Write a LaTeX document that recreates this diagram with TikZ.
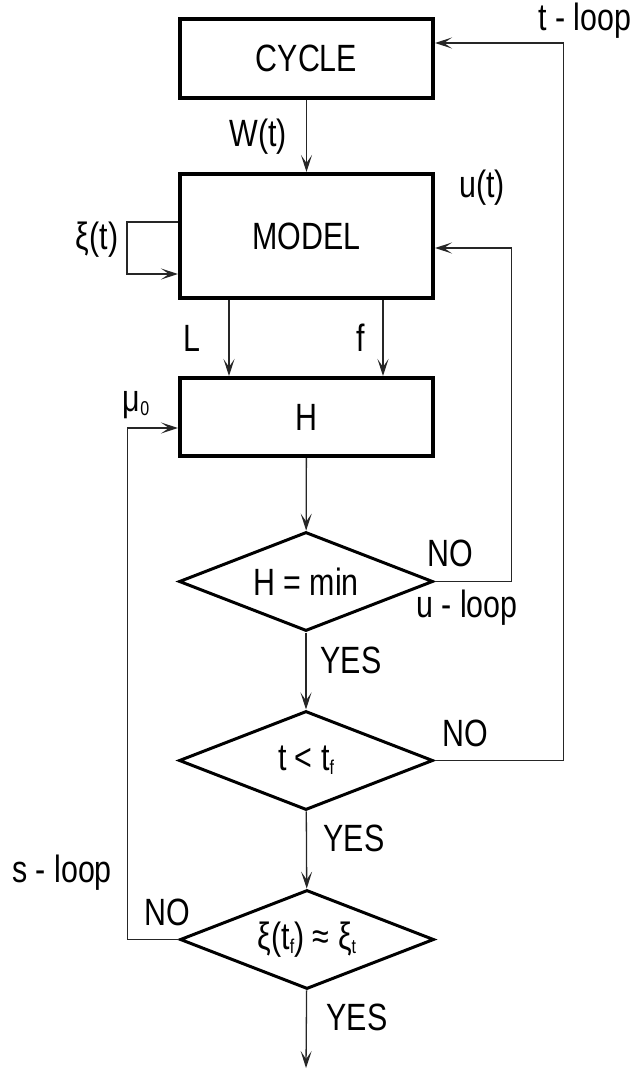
\documentclass[tikz,border=0pt]{standalone}
\usepackage{fontspec}
\setmainfont{Liberation Sans}[FakeStretch=0.8]
\usetikzlibrary{arrows.meta,shapes.geometric}

\tikzset{
  block/.style={draw, line width=4pt, minimum width=253pt, inner sep=0pt},
  test/.style={draw, diamond, line width=3pt, minimum width=254pt, minimum height=99pt, aspect=2.5, inner sep=0pt},
  arr/.style={-{Stealth[length=17pt,width=11pt,inset=8pt]}, line width=1.3pt, draw=black!85},
  lbl/.style={inner sep=0pt}
}
\newcommand{\subidx}[1]{\raisebox{-4pt}{\fontsize{20}{20}\selectfont #1}}

\begin{document}
\begin{tikzpicture}[x=1pt, y=-1pt, font=\fontsize{38}{45}\selectfont]
    \useasboundingbox (0,0) rectangle (640,1073);
    \node[block, minimum height=78pt] (cycle) at (306.5,58.5) {CYCLE};
    \node[block, minimum height=124pt] (model) at (306.5,236) {MODEL};
    \node[block, minimum height=78pt] (hbox) at (306.5,417) {H};
    \node[test] (hmin) at (306,581.5) {H = min};
    \node[test] (tlt) at (306,760.5) {t < t\subidx{f}};
    \node[test] (xi) at (307,939.5) {ξ(t\subidx{f}) ≈ ξ\subidx{t}};
    \coordinate (stop) at (306,1068);

    \draw[arr] (cycle) -- (model);
    \draw[arr] ([xshift=-77.5pt]model.south) -- ([xshift=-77.5pt]hbox.north);
    \draw[arr] ([xshift=76.5pt]model.south) -- ([xshift=76.5pt]hbox.north);
    \draw[arr] (hbox) -- (hmin);
    \draw[arr] (hmin) -- (tlt);
    \draw[arr] (tlt) -- (xi);
    \draw[arr] (xi) -- (stop);

    \draw[arr] ([yshift=14pt]model.west) -- ++(-51pt,0) |- ([yshift=-38pt]model.west);
    \draw[arr] (hmin.east) -- ++(77pt,0) |- ([yshift=-12pt]model.east);
    \draw[arr] (tlt.east) -- ++(129pt,0) |- ([yshift=15.5pt]cycle.east);
    \draw[arr] (xi.west) -- ++(-51pt,0) |- ([yshift=-11pt]hbox.west);

    \node[lbl] (wt) at (258,137) {W(t)};
    \node[lbl] (ut) at (482,188) {u(t)};
    \node[lbl] (tloop) at (585,21) {t - loop};
    \node[lbl] (xit) at (97,240) {ξ(t)};
    \node[lbl] (ll) at (192,338) {L};
    \node[lbl] (ff) at (361,338) {f};
    \node[lbl] (mu) at (136,405) {μ\subidx{0}};
    \node[lbl] (no1) at (450,553) {NO};
    \node[lbl] (uloop) at (467,608) {u - loop};
    \node[lbl] (yes1) at (351,660) {YES};
    \node[lbl] (no2) at (465,733) {NO};
    \node[lbl] (yes2) at (354,838) {YES};
    \node[lbl] (sloop) at (62,873) {s - loop};
    \node[lbl] (no3) at (167,912) {NO};
    \node[lbl] (yes3) at (357,1017) {YES};
\end{tikzpicture}
\end{document}
